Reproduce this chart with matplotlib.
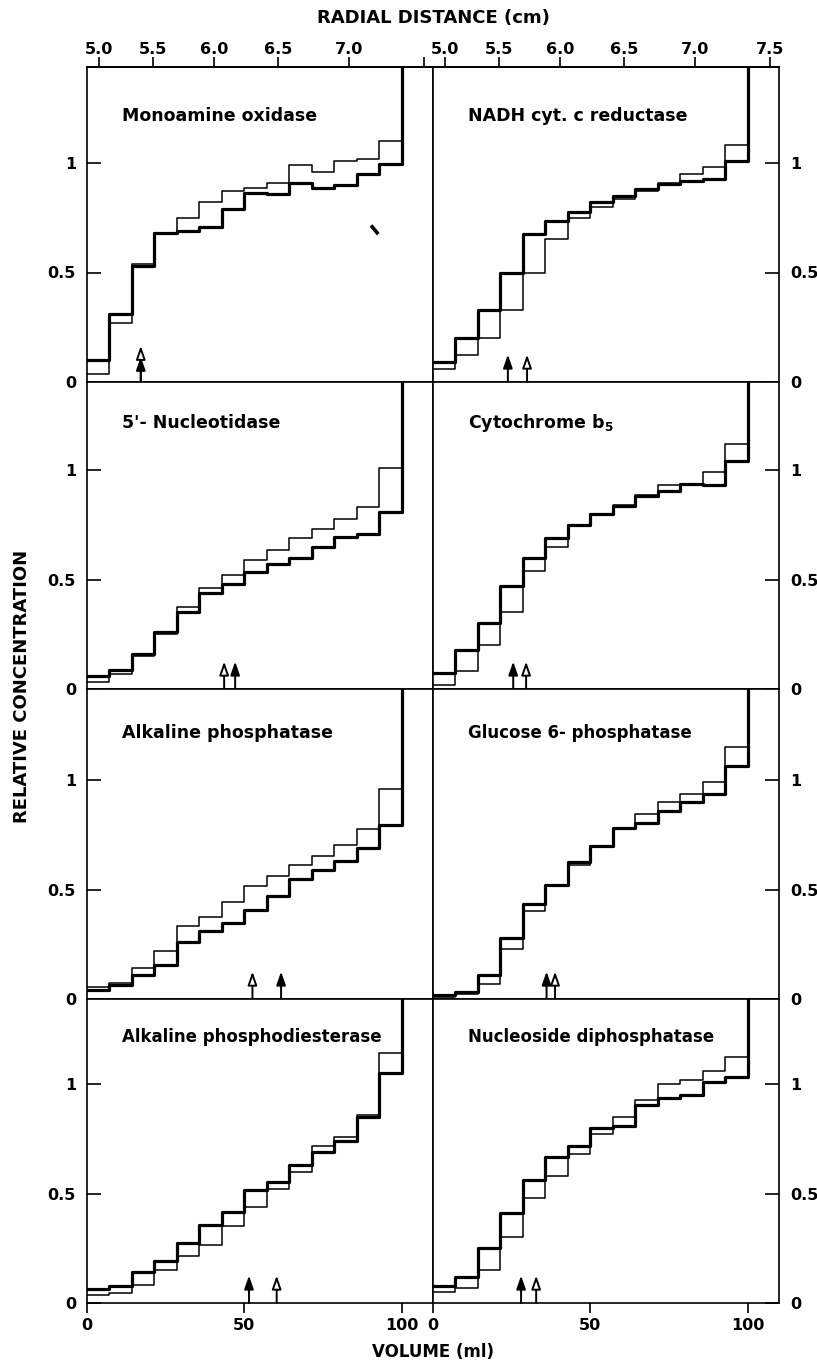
import numpy as np
import matplotlib
matplotlib.use("Agg")
import matplotlib.pyplot as plt

# fraction boundaries along the gradient (ml)
fraction_edges = [0, 7.1, 14.3, 21.4, 28.6, 35.7, 42.9, 50, 57.1, 64.3, 71.4, 78.6, 85.7, 92.9, 100]

# radial distance scale on top (cm) and where it falls on the volume axis (ml)
radial_cm = [5.0, 5.5, 6.0, 6.5, 7.0, 7.5]
radial_ml = [3.8, 21.0, 40.5, 60.7, 83.4, 107.2]

volume_ticks = [0, 50, 100]
conc_ticks = [0, 0.5, 1]

enzymes = [
    "Monoamine oxidase", "NADH cyt. c reductase",
    "5'- Nucleotidase", "Cytochrome b$_5$",
    "Alkaline phosphatase", "Glucose 6- phosphatase",
    "Alkaline phosphodiesterase", "Nucleoside diphosphatase",
]

thick_mao = [0.10, 0.31, 0.53, 0.68, 0.69, 0.71, 0.79, 0.865, 0.86, 0.91, 0.885, 0.90, 0.95, 0.995]
thin_mao = [0.035, 0.27, 0.54, 0.68, 0.75, 0.82, 0.87, 0.885, 0.91, 0.99, 0.96, 1.01, 1.02, 1.10]

thick_nadh = [0.09, 0.20, 0.33, 0.50, 0.675, 0.735, 0.775, 0.82, 0.85, 0.88, 0.905, 0.92, 0.925, 1.01]
thin_nadh = [0.06, 0.125, 0.20, 0.33, 0.50, 0.655, 0.75, 0.80, 0.835, 0.87, 0.91, 0.95, 0.98, 1.08]

thick_5nuc = [0.06, 0.087, 0.16, 0.26, 0.353, 0.44, 0.48, 0.535, 0.57, 0.60, 0.65, 0.695, 0.71, 0.81]
thin_5nuc = [0.03, 0.07, 0.15, 0.25, 0.373, 0.46, 0.52, 0.59, 0.635, 0.69, 0.73, 0.775, 0.83, 1.01]

thick_cytb5 = [0.075, 0.18, 0.30, 0.47, 0.60, 0.69, 0.75, 0.80, 0.835, 0.88, 0.905, 0.935, 0.93, 1.04]
thin_cytb5 = [0.018, 0.08, 0.20, 0.35, 0.54, 0.65, 0.75, 0.80, 0.84, 0.885, 0.93, 0.935, 0.99, 1.12]

thick_alp = [0.04, 0.065, 0.11, 0.155, 0.26, 0.31, 0.345, 0.405, 0.47, 0.55, 0.59, 0.63, 0.69, 0.795]
thin_alp = [0.056, 0.074, 0.14, 0.22, 0.335, 0.375, 0.445, 0.515, 0.56, 0.61, 0.655, 0.705, 0.775, 0.96]

thick_g6p = [0.018, 0.03, 0.11, 0.277, 0.434, 0.52, 0.625, 0.70, 0.78, 0.805, 0.86, 0.90, 0.935, 1.065]
thin_g6p = [0.01, 0.025, 0.07, 0.23, 0.40, 0.515, 0.61, 0.70, 0.775, 0.845, 0.90, 0.935, 0.99, 1.15]

thick_apde = [0.063, 0.078, 0.14, 0.19, 0.275, 0.356, 0.417, 0.516, 0.554, 0.63, 0.69, 0.74, 0.85, 1.05]
thin_apde = [0.035, 0.044, 0.08, 0.15, 0.215, 0.265, 0.35, 0.44, 0.52, 0.60, 0.715, 0.76, 0.86, 1.14]

thick_ndp = [0.078, 0.12, 0.25, 0.41, 0.56, 0.665, 0.715, 0.80, 0.81, 0.905, 0.935, 0.95, 1.01, 1.03]
thin_ndp = [0.05, 0.07, 0.15, 0.30, 0.48, 0.58, 0.68, 0.77, 0.85, 0.925, 1.00, 1.02, 1.06, 1.125]

thick_series = [thick_mao, thick_nadh, thick_5nuc, thick_cytb5, thick_alp, thick_g6p, thick_apde, thick_ndp]
thin_series = [thin_mao, thin_nadh, thin_5nuc, thin_cytb5, thin_alp, thin_g6p, thin_apde, thin_ndp]

# peak positions (ml): filled arrow / open arrow, with arrow tip heights
filled_arrow_ml = [17.1, 23.8, 47.1, 25.5, 61.7, 36.1, 51.5, 28.0]
open_arrow_ml = [17.1, 29.9, 43.6, 29.6, 52.6, 38.8, 60.3, 32.8]
filled_arrow_tip = [0.115, 0.125, 0.125, 0.125, 0.125, 0.125, 0.125, 0.125]
open_arrow_tip = [0.165, 0.125, 0.125, 0.125, 0.125, 0.125, 0.125, 0.125]

# small stray mark in the monoamine oxidase panel
mark_ml = [90.3, 92.6]
mark_conc = [0.715, 0.675]

plt.rcParams['font.family'] = ['DejaVu Sans']
plt.rcParams['font.weight'] = 'bold'

W, H = 817, 1362
col_px = [87, 433, 779]
row_px = [67, 382, 689, 999, 1303]
px_per_unit = 219.0

fig = plt.figure(figsize=(W / 100, H / 100), dpi=100)


def step_xy(values):
    x = list(fraction_edges) + [fraction_edges[-1]]
    y = list(values) + [values[-1], 5.0]
    return x, y


def draw_arrow(ax, x, tip, open_head):
    ax.annotate('', xy=(x, tip), xytext=(x, 0),
                arrowprops=dict(arrowstyle='-|>,head_length=0.8,head_width=0.28',
                                lw=1.4, ec='black',
                                fc='white' if open_head else 'black',
                                shrinkA=0, shrinkB=0),
                annotation_clip=False, zorder=4)


for i in range(8):
    r, c = divmod(i, 2)
    left = col_px[c] / W
    width = (col_px[c + 1] - col_px[c]) / W
    bottom = 1 - row_px[r + 1] / H
    height = (row_px[r + 1] - row_px[r]) / H
    ax = fig.add_axes([left, bottom, width, height])
    ax.set_xlim(0, 110)
    ax.set_ylim(0, (row_px[r + 1] - row_px[r]) / px_per_unit)

    x, y = step_xy(thin_series[i])
    ax.plot(x, y, drawstyle='steps-post', color='black', lw=1.1, zorder=2)
    x, y = step_xy(thick_series[i])
    ax.plot(x, y, drawstyle='steps-post', color='black', lw=2.3, zorder=3)

    draw_arrow(ax, open_arrow_ml[i], open_arrow_tip[i], True)
    draw_arrow(ax, filled_arrow_ml[i], filled_arrow_tip[i], False)

    if i == 0:
        ax.plot(mark_ml, mark_conc, color='black', lw=2.6, solid_capstyle='butt')

    # long names are set a touch smaller so they fit like the short ones
    name_size = 12.5 if len(enzymes[i]) < 22 else 12
    ax.text(11, 1.215, enzymes[i], fontsize=name_size, fontweight='bold',
            ha='left', va='center')

    for sp in ax.spines.values():
        sp.set_linewidth(1.2)

    # concentration axis: inward ticks, labels on the outer side
    ax.set_yticks(conc_ticks)
    ax.set_yticklabels(['0', '0.5', '1'])
    if c == 0:
        ax.tick_params(axis='y', left=True, right=False, labelleft=True,
                       labelright=False, direction='in', length=10, width=1.2,
                       pad=8, labelsize=11.5)
    else:
        ax.tick_params(axis='y', left=False, right=True, labelleft=False,
                       labelright=True, direction='in', length=10, width=1.2,
                       pad=8, labelsize=11.5)

    # volume axis on the bottom row only
    if r == 3:
        ax.set_xticks(volume_ticks)
        ax.set_xticklabels([str(v) for v in volume_ticks])
        ax.tick_params(axis='x', direction='out', length=7, width=1.2,
                       pad=4, labelsize=11.5)
    else:
        ax.set_xticks([])

    # radial distance on the top row only
    if r == 0:
        top = ax.secondary_xaxis('top')
        top.set_xticks(radial_ml)
        labels = ['%.1f' % v for v in radial_cm]
        if c == 0:
            labels[-1] = ''
        top.set_xticklabels(labels)
        top.tick_params(direction='out', length=7, width=1.2, pad=0,
                        labelsize=11.5)
        top.spines['top'].set_linewidth(1.2)

fig.text(433 / W, 1 - 18 / H, 'RADIAL DISTANCE (cm)', ha='center', va='center',
         fontsize=13, fontweight='bold')
fig.text(433 / W, 1 - 1352 / H, 'VOLUME (ml)', ha='center', va='center',
         fontsize=12, fontweight='bold')
fig.text(22 / W, 1 - 686 / H, 'RELATIVE CONCENTRATION', ha='center', va='center',
         rotation=90, fontsize=13, fontweight='bold')

fig.savefig('out.png', dpi=100, facecolor='white')
